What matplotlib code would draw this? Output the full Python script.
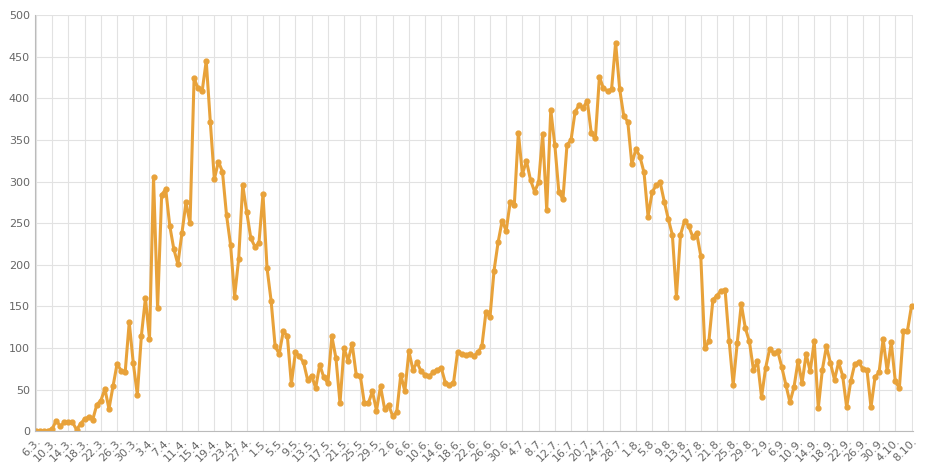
import numpy as np
import pandas as pd
import matplotlib
matplotlib.use('Agg')
import matplotlib.pyplot as plt

# daily values from 6.3. to 8.10.
values = [1, 0, 0, 1, 3, 13, 6, 11, 11, 11, 2, 9, 15, 17, 14, 32, 37, 51, 27, 54, 81, 73, 71, 131, 82, 44,
          115, 160, 111, 305, 148, 284, 291, 247, 219, 201, 238, 275, 250, 424, 412, 409, 445, 372, 303, 324,
          312, 260, 224, 162, 207, 296, 263, 232, 222, 226,
          285, 196, 157, 102, 93, 120, 115, 57, 95, 90, 83, 62, 67, 52, 80, 65, 58, 114, 88, 34, 100, 85, 105,
          68, 67, 34, 34, 48, 25, 54, 27,
          32, 18, 23, 68, 48, 96, 74, 83, 72, 68, 66, 71, 74, 76, 58, 56, 58, 95, 93, 92, 93, 90, 95, 102, 143,
          137, 193, 227, 253, 241,
          276, 272, 359, 309, 325, 302, 288, 299, 357, 266, 386, 344, 287, 279, 344, 350, 384, 392, 389, 397,
          358, 352, 426, 412, 409, 411, 467, 411, 379, 372, 321,
          339, 330, 311, 258, 287, 296, 299, 276, 255, 236, 162, 236, 253, 247, 234, 238, 211, 100, 108, 158,
          163, 169, 170, 109, 56, 106, 153, 124, 108, 74, 84,
          41, 76, 99, 94, 96, 77, 56, 35, 53, 84, 58, 93, 72, 108, 28, 74, 102, 82, 62, 83, 67, 29, 60, 81, 83,
          75, 74, 29, 65, 71,
          111, 72, 107, 60, 52, 120, 121, 151]
dates = pd.date_range('2020-03-06', '2020-10-08')
values = values[:len(dates)] + [values[-1]] * max(0, len(dates) - len(values))
labels = [f'{d.day}.{d.month}.' for d in dates]

fig, ax = plt.subplots(figsize=(9.4, 4.74), dpi=100)
fig.subplots_adjust(left=0.037, right=0.971, top=0.968, bottom=0.09)
x = np.arange(len(dates))
ax.plot(x, values, color='#e8a23a', lw=2.2, marker='o', ms=3.5)
ax.set_xlim(-0.3, len(dates) - 0.7)
ax.set_ylim(0, 500)
ax.set_yticks(range(0, 501, 50))
ax.set_xticks(x[::4])
ax.set_xticklabels(labels[::4], rotation=45, ha='right', rotation_mode='anchor')
ax.tick_params(colors='#666666', labelsize=8, length=0)
ax.grid(color='#e2e2e2', lw=0.8)
for s in ['top', 'right']:
    ax.spines[s].set_visible(False)
for s in ['left', 'bottom']:
    ax.spines[s].set_color('#bbbbbb')
fig.savefig('out.png')
